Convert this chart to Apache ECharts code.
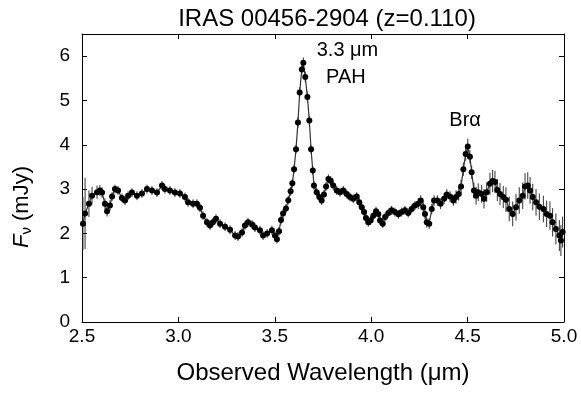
<!DOCTYPE html>
<html>
<head>
<meta charset="utf-8">
<script src="https://cdn.jsdelivr.net/npm/echarts@6/dist/echarts.min.js"></script>
<style>
  html, body { margin: 0; padding: 0; background: #fff; }
  #chart { width: 581px; height: 394px; }
</style>
</head>
<body>
<div id="chart"></div>
<script>
// observed wavelength (um)
const wavelength = [
  2.505, 2.516, 2.536, 2.552, 2.578, 2.593, 2.604, 2.619, 2.630, 2.645,
  2.656, 2.671, 2.687, 2.707, 2.723, 2.739, 2.759, 2.785, 2.811, 2.837,
  2.863, 2.889, 2.915, 2.930, 2.956, 2.982, 3.008, 3.034, 3.050, 3.076,
  3.096, 3.112, 3.128, 3.148, 3.164, 3.179, 3.195, 3.216, 3.242, 3.268,
  3.294, 3.309, 3.330, 3.345, 3.361, 3.382, 3.397, 3.423, 3.439, 3.460,
  3.485, 3.501, 3.511, 3.522, 3.532, 3.543, 3.558, 3.570, 3.582, 3.591,
  3.600, 3.610, 3.620, 3.629, 3.640, 3.648, 3.658, 3.669, 3.679, 3.688,
  3.697, 3.703, 3.717, 3.731, 3.743, 3.755, 3.766, 3.778, 3.790, 3.803,
  3.821, 3.838, 3.855, 3.873, 3.890, 3.907, 3.925, 3.938, 3.951, 3.963,
  3.973, 3.985, 3.997, 4.011, 4.025, 4.037, 4.046, 4.060, 4.072, 4.089,
  4.106, 4.123, 4.141, 4.158, 4.175, 4.192, 4.210, 4.227, 4.244, 4.257,
  4.270, 4.279, 4.288, 4.301, 4.314, 4.326, 4.343, 4.360, 4.378, 4.392,
  4.409, 4.426, 4.440, 4.454, 4.466, 4.478, 4.490, 4.501, 4.512, 4.521,
  4.533, 4.544, 4.555, 4.573, 4.585, 4.599, 4.616, 4.630, 4.642, 4.654,
  4.668, 4.685, 4.699, 4.716, 4.734, 4.751, 4.768, 4.786, 4.798, 4.812,
  4.824, 4.838, 4.855, 4.872, 4.893, 4.910, 4.927, 4.941, 4.958, 4.976,
  4.984, 4.993
]

// F_nu (mJy)
const flux = [
  2.22, 2.45, 2.67, 2.85, 2.93, 2.97, 2.92, 2.67, 2.50, 2.63,
  2.83, 3.00, 2.97, 2.80, 2.74, 2.85, 2.92, 2.85, 2.90, 3.00,
  2.97, 2.92, 3.08, 3.00, 2.97, 2.92, 2.90, 2.82, 2.70, 2.67,
  2.67, 2.58, 2.40, 2.25, 2.18, 2.25, 2.33, 2.22, 2.15, 2.08,
  1.95, 1.93, 2.02, 2.18, 2.25, 2.20, 2.13, 2.07, 1.95, 2.00,
  2.07, 1.95, 1.87, 2.05, 2.30, 2.45, 2.56, 2.75, 2.95, 3.13,
  3.45, 3.90, 4.50, 5.18, 5.70, 5.85, 5.53, 5.08, 4.55, 3.90,
  3.42, 3.08, 2.93, 2.82, 2.74, 2.88, 3.06, 3.23, 3.19, 3.08,
  2.97, 2.93, 2.97, 2.89, 2.82, 2.78, 2.83, 2.70, 2.59, 2.48,
  2.35, 2.25, 2.29, 2.40, 2.50, 2.44, 2.29, 2.22, 2.37, 2.46,
  2.52, 2.48, 2.43, 2.48, 2.52, 2.46, 2.55, 2.63, 2.67, 2.74,
  2.59, 2.44, 2.25, 2.22, 2.55, 2.74, 2.74, 2.67, 2.78, 2.88,
  2.83, 2.74, 2.82, 2.89, 3.06, 3.45, 3.79, 3.96, 3.73, 3.38,
  2.97, 2.85, 2.93, 2.89, 2.78, 2.93, 3.12, 3.18, 3.16, 2.98,
  2.89, 2.82, 2.76, 2.55, 2.44, 2.59, 2.74, 2.85, 3.06, 3.08,
  2.97, 2.82, 2.70, 2.60, 2.55, 2.44, 2.40, 2.25, 2.10, 1.95,
  1.84, 2.03
]

// 1-sigma error (mJy)
const fluxErr = [
  0.60, 0.80, 0.30, 0.20, 0.15, 0.12, 0.12, 0.12, 0.12, 0.12,
  0.10, 0.10, 0.10, 0.10, 0.10, 0.10, 0.10, 0.10, 0.10, 0.10,
  0.10, 0.10, 0.10, 0.10, 0.10, 0.10, 0.10, 0.10, 0.10, 0.10,
  0.10, 0.10, 0.10, 0.10, 0.10, 0.10, 0.10, 0.10, 0.10, 0.10,
  0.10, 0.10, 0.10, 0.10, 0.10, 0.10, 0.10, 0.10, 0.10, 0.10,
  0.10, 0.10, 0.10, 0.10, 0.10, 0.10, 0.10, 0.10, 0.10, 0.10,
  0.10, 0.10, 0.12, 0.12, 0.12, 0.12, 0.12, 0.12, 0.10, 0.10,
  0.10, 0.10, 0.10, 0.10, 0.10, 0.10, 0.10, 0.10, 0.10, 0.10,
  0.10, 0.10, 0.10, 0.10, 0.10, 0.10, 0.10, 0.10, 0.10, 0.10,
  0.10, 0.10, 0.10, 0.10, 0.10, 0.10, 0.10, 0.10, 0.10, 0.10,
  0.10, 0.10, 0.10, 0.10, 0.10, 0.10, 0.10, 0.10, 0.12, 0.12,
  0.12, 0.12, 0.12, 0.12, 0.12, 0.12, 0.12, 0.12, 0.12, 0.12,
  0.12, 0.12, 0.15, 0.15, 0.15, 0.15, 0.15, 0.18, 0.15, 0.15,
  0.18, 0.20, 0.20, 0.20, 0.22, 0.22, 0.25, 0.25, 0.25, 0.25,
  0.25, 0.25, 0.28, 0.28, 0.28, 0.30, 0.30, 0.30, 0.30, 0.30,
  0.30, 0.30, 0.30, 0.30, 0.30, 0.30, 0.32, 0.32, 0.35, 0.35,
  0.35, 0.35
]

const xTicks = [2.5, 3.0, 3.5, 4.0, 4.5, 5.0]
const yTicks = [0, 1, 2, 3, 4, 5, 6]

const lineLabels = [
  { text: '3.3 μm', at: [3.877, 6.13] },
  { text: 'PAH', at: [3.869, 5.51] },
  { text: 'Brα', at: [4.487, 4.55] }
]

const points = wavelength.map((w, i) => [w, flux[i]])
const bars = wavelength.map((w, i) => [w, flux[i] - fluxErr[i], flux[i] + fluxErr[i]])

const font = 'Liberation Sans, Arial, Helvetica, sans-serif'
const axisBase = {
  min: xTicks[0],
  max: xTicks[xTicks.length - 1],
  interval: 0.5,
  axisLine: { show: true, onZero: false, lineStyle: { color: '#000', width: 1 } },
  axisTick: { show: true, inside: true, length: 5, lineStyle: { color: '#000' } },
  splitLine: { show: false }
}

const chart = echarts.init(document.getElementById('chart'))
chart.setOption({
  animation: false,
  backgroundColor: '#fff',
  title: {
    text: 'IRAS 00456-2904 (z=0.110)',
    left: 322,
    textAlign: 'center',
    top: 2,
    textStyle: { fontFamily: font, fontSize: 24, fontWeight: 'normal', color: '#000' }
  },
  grid: { left: 82, right: 17, top: 34, bottom: 72 },
  xAxis: [
    {
      ...axisBase,
      type: 'value',
      position: 'bottom',
      name: 'Observed Wavelength (μm)',
      nameLocation: 'middle',
      nameGap: 39,
      nameTextStyle: { fontFamily: font, fontSize: 24, color: '#000' },
      axisLabel: {
        fontFamily: font, fontSize: 19, color: '#000', margin: 5,
        formatter: v => v.toFixed(1)
      }
    },
    { ...axisBase, type: 'value', position: 'top', axisLabel: { show: false } }
  ],
  yAxis: [
    {
      ...axisBase,
      type: 'value',
      min: 0,
      max: 6.5,
      interval: 1,
      position: 'left',
      axisLabel: {
        fontFamily: font, fontSize: 19, color: '#000', margin: 12,
        formatter: v => (yTicks.includes(v) ? String(v) : '')
      }
    },
    {
      ...axisBase,
      type: 'value',
      min: 0,
      max: 6.5,
      interval: 1,
      position: 'right',
      axisLabel: { show: false }
    }
  ],
  graphic: [
    {
      type: 'text',
      x: 22,
      y: 207,
      rotation: Math.PI / 2,
      style: {
        text: '{i|F}{s|ν} (mJy)',
        align: 'center',
        verticalAlign: 'middle',
        fontFamily: font,
        fontSize: 22,
        fill: '#000',
        rich: {
          i: { fontFamily: font, fontSize: 22, fontStyle: 'italic', fill: '#000' },
          s: { fontFamily: font, fontSize: 15, fill: '#000', padding: [10, 0, 0, 0] }
        }
      }
    }
  ],
  series: [
    {
      type: 'custom',
      xAxisIndex: 0,
      yAxisIndex: 0,
      data: bars,
      encode: { x: 0, y: [1, 2] },
      z: 1,
      renderItem: (params, api) => {
        const lo = api.coord([api.value(0), api.value(1)])
        const hi = api.coord([api.value(0), api.value(2)])
        return {
          type: 'line',
          shape: { x1: lo[0], y1: lo[1], x2: hi[0], y2: hi[1] },
          style: { stroke: '#333', lineWidth: 1 }
        }
      }
    },
    {
      type: 'line',
      xAxisIndex: 0,
      yAxisIndex: 0,
      data: points,
      z: 2,
      symbol: 'circle',
      symbolSize: 6,
      showSymbol: true,
      itemStyle: { color: '#000' },
      lineStyle: { color: '#333', width: 1.2 },
      markPoint: {
        symbol: 'circle',
        symbolSize: 0,
        label: {
          show: true,
          position: 'inside',
          fontFamily: font,
          fontSize: 20,
          color: '#000',
          formatter: p => p.name
        },
        data: lineLabels.map(l => ({ name: l.text, coord: l.at }))
      }
    }
  ]
})
</script>
</body>
</html>
